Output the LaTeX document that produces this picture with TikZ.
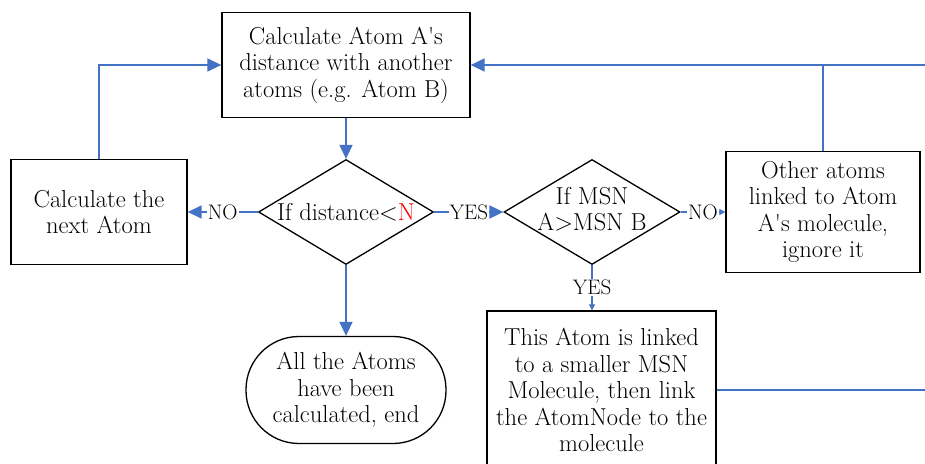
\documentclass[tikz,border=0pt]{standalone}
\usetikzlibrary{shapes.geometric,arrows.meta}
\definecolor{flowblue}{RGB}{68,114,196}
\begin{document}
\begin{tikzpicture}[
  x=1pt, y=-1pt,
  every node/.style={font=\fontsize{24.5}{26.5}\selectfont, align=center},
  box/.style={rectangle, draw, line width=1.3pt, inner sep=2pt},
  test/.style={diamond, draw, line width=1.3pt, inner sep=0pt, aspect=1.67},
  stop/.style={rectangle, draw, line width=1.3pt, rounded corners=53pt},
  link/.style={draw=flowblue, line width=1.5pt},
  flow/.style={link, -{Triangle[length=14pt,width=13pt]}},
  flowsmall/.style={link, -{Triangle[length=6pt,width=6pt]}},
  lab/.style={font=\fontsize{21}{24}\selectfont, fill=white, inner sep=1pt}
]
\useasboundingbox (0,0) rectangle (925,463);
\clip (0,0) rectangle (925,463);

\node[box, minimum width=248pt, minimum height=105pt] (calc) at (346,65)
  {Calculate Atom A\textquotesingle s\\distance with another\\atoms (e.g. Atom B)};
\node[box, minimum width=176pt, minimum height=105pt] (next) at (99,212)
  {Calculate the\\next Atom};
\node[test, minimum width=175pt, minimum height=105pt] (dist) at (346,212)
  {\makebox[0pt]{If distance<{\color{red}N}}};
\node[test, minimum width=176pt, minimum height=105pt] (msn) at (592,212)
  {\makebox[0pt]{\begin{tabular}{@{}c@{}}If MSN\\A>MSN B\end{tabular}}};
\node[box, minimum width=194pt, minimum height=121pt] (other) at (823,212)
  {Other atoms\\linked to Atom\\A\textquotesingle s molecule,\\ignore it};
\node[stop, minimum width=200pt, minimum height=107pt] (term) at (346,390)
  {All the Atoms\\have been\\calculated, end};
\node[box, minimum width=229pt, minimum height=158pt] (merge) at (601.5,390)
  {This Atom is linked\\to a smaller MSN\\Molecule, then link\\the AtomNode to the\\molecule};

\coordinate (edge top) at (925,65);
\coordinate (edge low) at (925,390);

\draw[flow] (calc.south) -- (dist.north);
\draw[flow] (dist.south) -- (term.north);
\draw[flow] (dist.west) -- node[lab] {NO} (next.east);
\draw[flow] (dist.east) -- node[lab] {YES} (msn.west);
\draw[flowsmall] (msn.east) -- node[lab] {NO} (other.west);
\draw[flowsmall] (msn.south) -- node[lab] {YES} (msn.south |- merge.north);
\draw[flow] (next.north) |- (calc.west);
\draw[flow] (edge top) -- (calc.east);
\draw[link] (other.north) -- (other.north |- calc.east);
\draw[link] (merge.east) -- (edge low);
\end{tikzpicture}
\end{document}
